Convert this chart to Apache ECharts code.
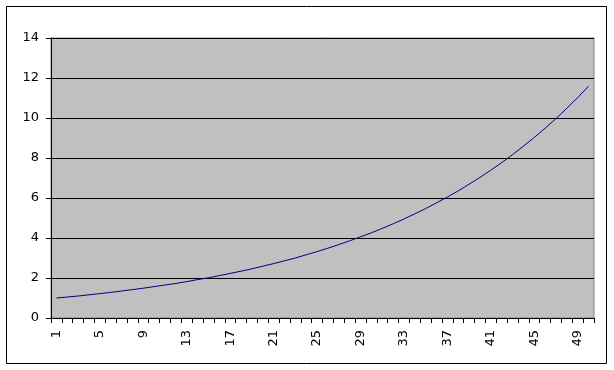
<!DOCTYPE html>
<html>
<head>
<meta charset="utf-8">
<style>
  html, body { margin: 0; padding: 0; background: #ffffff; }
  #chart { width: 614px; height: 370px; }
</style>
<script src="https://cdn.jsdelivr.net/npm/echarts@6/dist/echarts.min.js"></script>
</head>
<body>
<div id="chart"></div>
<script>
// Categories 1..50
const categories = ['1','2','3','4','5','6','7','8','9','10',
  '11','12','13','14','15','16','17','18','19','20',
  '21','22','23','24','25','26','27','28','29','30',
  '31','32','33','34','35','36','37','38','39','40',
  '41','42','43','44','45','46','47','48','49','50'];

// Values
const values = [1.00, 1.05, 1.10, 1.16, 1.22, 1.28, 1.35, 1.42, 1.49, 1.57,
  1.65, 1.73, 1.82, 1.92, 2.01, 2.12, 2.23, 2.34, 2.46, 2.59,
  2.72, 2.86, 3.00, 3.16, 3.32, 3.49, 3.67, 3.86, 4.06, 4.26,
  4.48, 4.71, 4.95, 5.21, 5.47, 5.76, 6.05, 6.36, 6.69, 7.03,
  7.39, 7.77, 8.17, 8.59, 9.03, 9.49, 9.97, 10.49, 11.02, 11.59];

// Y axis ticks
const yMin = 0, yMax = 14, yStep = 2;

const chart = echarts.init(document.getElementById('chart'), null, { renderer: 'canvas' });
const font = 'DejaVu Sans';
chart.setOption({
  animation: false,
  backgroundColor: '#ffffff',
  graphic: [{
    type: 'rect',
    shape: { x: 6.5, y: 6.5, width: 600, height: 357 },
    style: { fill: 'none', stroke: '#000000', lineWidth: 1 },
    silent: true
  }],
  grid: {
    left: 51, top: 38, right: 20, bottom: 52,
    show: true,
    backgroundColor: '#c0c0c0',
    borderColor: '#808080',
    borderWidth: 1
  },
  xAxis: {
    type: 'category',
    data: categories,
    boundaryGap: true,
    axisLine: { show: true, lineStyle: { color: '#000000', width: 1 } },
    axisTick: { show: true, interval: 0, length: 5, lineStyle: { color: '#000000' } },
    axisLabel: {
      interval: 3, rotate: 90, margin: 12,
      color: '#000000', fontFamily: font, fontSize: 13
    },
    splitLine: { show: false }
  },
  yAxis: {
    type: 'value',
    min: yMin, max: yMax, interval: yStep,
    axisLine: { show: true, lineStyle: { color: '#000000', width: 1 } },
    axisTick: { show: true, length: 5, lineStyle: { color: '#000000' } },
    axisLabel: { margin: 12, color: '#000000', fontFamily: font, fontSize: 13 },
    splitLine: { show: true, lineStyle: { color: '#000000', width: 1 } }
  },
  series: [{
    type: 'line',
    data: values,
    symbol: 'none',
    smooth: false,
    lineStyle: { color: '#000080', width: 1 },
    itemStyle: { color: '#000080' }
  }]
});
</script>
</body>
</html>
